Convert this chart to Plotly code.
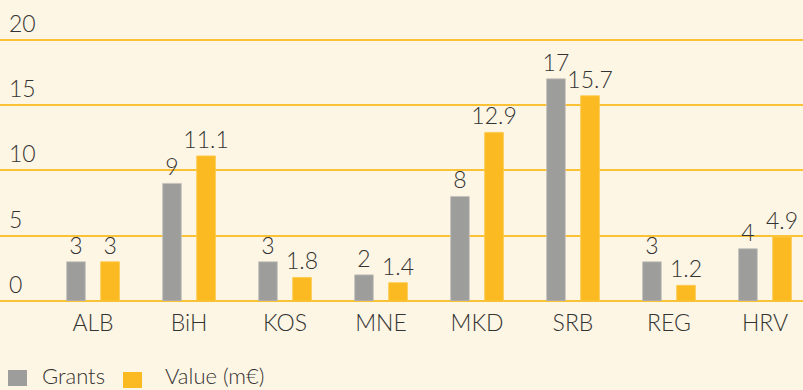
import plotly.graph_objects as go

# Programme grants per beneficiary, with their value in million euro
categories = ["ALB", "BiH", "KOS", "MNE", "MKD", "SRB", "REG", "HRV"]
grants = [3, 9, 3, 2, 8, 17, 3, 4]
value_meur = [3, 11.1, 1.8, 1.4, 12.9, 15.7, 1.2, 4.9]
y_ticks = [0, 5, 10, 15, 20]
series_names = ["Grants", "Value (m€)"]

GREY = "#9d9d9c"
GOLD = "#fbba21"
GRID = "#fcc235"
TEXT = "#333333"
BG = "#fef6e4"
FONT = "Lato"

W, H = 803, 390
TOP, BOTTOM = 37, 89          # margins in px
PLOT_H = H - TOP - BOTTOM

x_idx = list(range(len(categories)))

label_font = dict(family=FONT, size=23, color=TEXT, weight=300)

fig = go.Figure()
fig.add_trace(go.Bar(
    x=x_idx, y=grants, name=series_names[0],
    marker=dict(color=GREY, line=dict(color="#c4c2bc", width=0.8)),
    width=0.195, offset=-0.275,
    text=[f"{v:g}" for v in grants], textposition="outside",
    textfont=label_font, constraintext="none",
    cliponaxis=False, showlegend=False,
))
fig.add_trace(go.Bar(
    x=x_idx, y=value_meur, name=series_names[1],
    marker=dict(color=GOLD, line=dict(color="#fdc94a", width=0.8)),
    width=0.195, offset=0.08,
    text=[f"{v:g}" for v in value_meur], textposition="outside",
    textfont=label_font, constraintext="none",
    cliponaxis=False, showlegend=False,
))

# Value-axis labels sit just above their grid lines, flush left
for t in y_ticks:
    fig.add_annotation(xref="paper", yref="y", x=0, y=t,
                       xanchor="left", yanchor="middle", xshift=7, yshift=17,
                       showarrow=False, text=str(t), font=label_font)


def py(pixel_y):
    """Convert a pixel row of the page into a paper y coordinate."""
    return (H - BOTTOM - pixel_y) / PLOT_H


# Legend drawn as swatches + labels along the bottom edge
legend_items = [
    (series_names[0], GREY, 8, 27, 370, 386, 40),
    (series_names[1], GOLD, 123, 142, 372, 388, 163),
]
for label, color, x0, x1, y0, y1, tx in legend_items:
    fig.add_shape(type="rect", xref="paper", yref="paper",
                  x0=x0 / W, x1=x1 / W, y0=py(y1), y1=py(y0),
                  fillcolor=color, line=dict(width=0), layer="above")
    fig.add_annotation(xref="paper", yref="paper", x=tx / W, y=py(375),
                       xanchor="left", yanchor="middle", showarrow=False,
                       text=label, font=dict(family=FONT, size=22, color=TEXT, weight=300))

fig.update_layout(
    width=W, height=H,
    margin=dict(l=0, r=0, t=TOP, b=BOTTOM),
    paper_bgcolor=BG, plot_bgcolor=BG,
    barmode="overlay",
    font=dict(family=FONT, color=TEXT, weight=300),
    xaxis=dict(
        range=[-0.969, 7.396],
        tickmode="array", tickvals=x_idx, ticktext=categories,
        tickfont=label_font,
        showgrid=False, zeroline=False, showline=False, ticks="",
        ticklabelstandoff=6,
    ),
    yaxis=dict(
        range=[0, 20.2],
        tickmode="array", tickvals=y_ticks,
        showticklabels=False,
        showgrid=True, gridcolor=GRID, gridwidth=1.5,
        zeroline=True, zerolinecolor=GRID, zerolinewidth=1.5,
        showline=False, ticks="",
    ),
)

fig.write_html("out.html")
